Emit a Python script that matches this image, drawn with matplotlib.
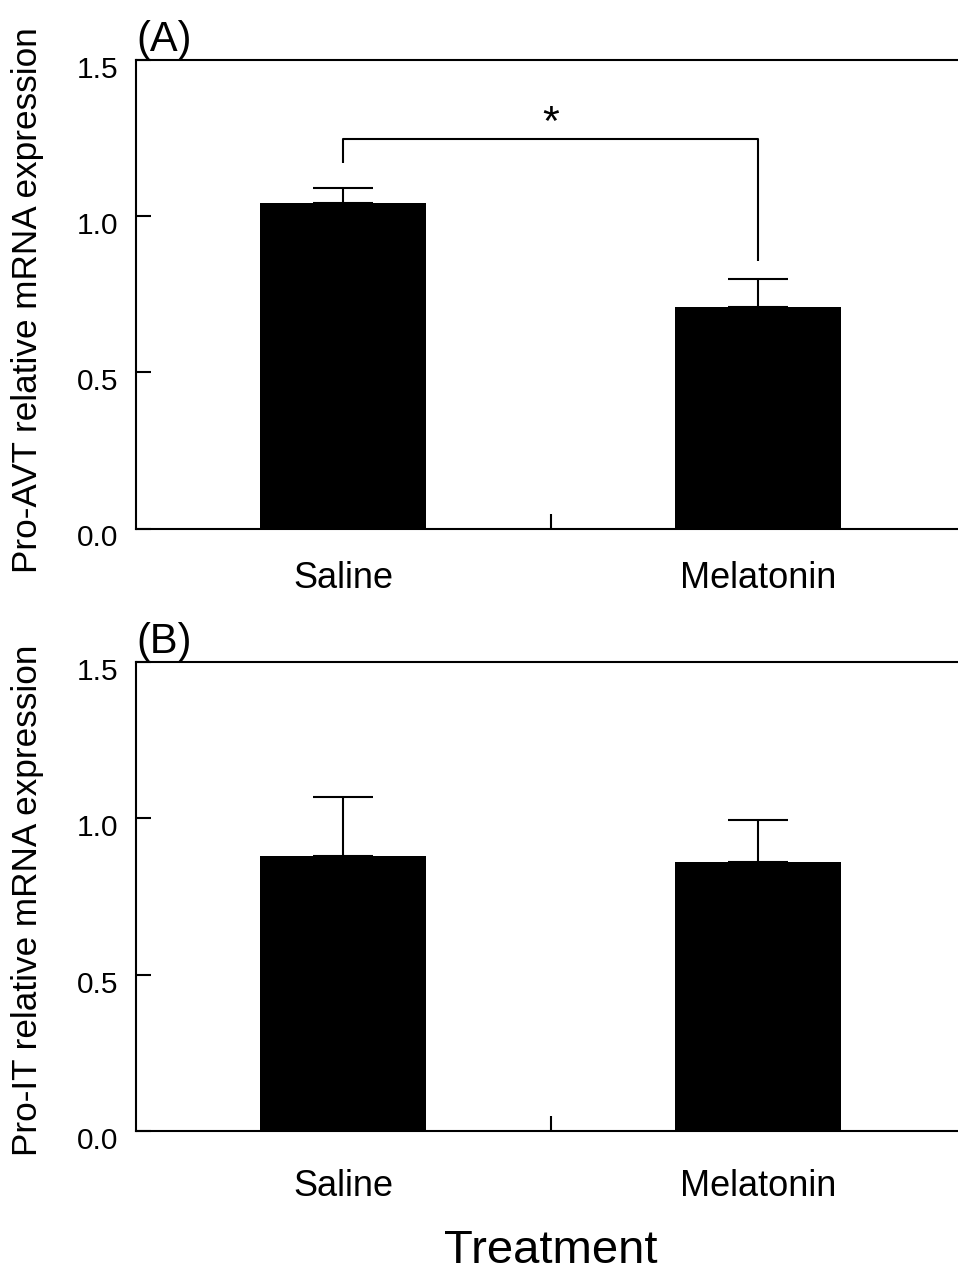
import matplotlib
matplotlib.use('Agg')
import matplotlib.pyplot as plt
from matplotlib.transforms import ScaledTranslation
import numpy as np

plt.rcParams['font.family'] = ['Liberation Sans', 'DejaVu Sans']

# ---- data ----
categories = ['Saline', 'Melatonin']
avt_means = [1.043, 0.710]
avt_sem = [0.048, 0.088]
it_means = [0.879, 0.860]
it_sem = [0.189, 0.135]
yticks = [0.0, 0.5, 1.0, 1.5]
ytick_labels = ['0.0', '0.5', '1.0', '1.5']
panel_labels = ['(A)', '(B)']
ylabels = ['Pro-AVT relative mRNA expression', 'Pro-IT relative mRNA expression']
xlabel = 'Treatment'
sig_text = '*'

fig = plt.figure(figsize=(9.58, 12.71), dpi=100)
left = 136 / 958
width = (965 - 136) / 958
ax1 = fig.add_axes([left, 1 - 528.5 / 1271, width, 468.5 / 1271])
ax2 = fig.add_axes([left, 1 - 1131 / 1271, width, 469 / 1271])

x = np.arange(len(categories))
lw = 1.5


def style(ax, means, sem, ylabel, panel, xpad, ylab_y):
    ax.bar(x, means, width=0.40, color='black', edgecolor='black', linewidth=0,
           yerr=[np.zeros(len(sem)), sem],
           error_kw=dict(ecolor='black', elinewidth=lw, capsize=21.6, capthick=lw),
           zorder=2)
    ax.set_xlim(-0.5, 1.5)
    ax.set_ylim(0, 1.5)
    for s in ['left', 'top', 'bottom']:
        ax.spines[s].set_linewidth(lw)
    ax.spines['right'].set_visible(False)
    ax.set_yticks(yticks)
    ax.set_yticklabels(ytick_labels)
    ax.tick_params(axis='y', direction='in', length=10.5, width=lw, labelsize=21.5, pad=13.0)
    ax.set_xticks(x)
    ax.set_xticklabels(categories)
    ax.tick_params(axis='x', which='major', length=0, labelsize=26, pad=xpad)
    ax.set_xticks([0.5], minor=True)
    ax.tick_params(axis='x', which='minor', direction='in', length=10.5, width=lw)
    off = ScaledTranslation(0, -7 / 100, fig.dpi_scale_trans)
    for lbl in ax.get_yticklabels():
        lbl.set_transform(lbl.get_transform() + off)
    ax.set_ylabel(ylabel, fontsize=25.3, va='center')
    ax.yaxis.set_label_coords(-0.131, ylab_y)
    ax.text(0.0, 1.0 + 9 / 468.5, panel, transform=ax.transAxes,
            ha='left', va='baseline', fontsize=30)


style(ax1, avt_means, avt_sem, ylabels[0], panel_labels[0], 23.5, 0.488)
style(ax2, it_means, it_sem, ylabels[1], panel_labels[1], 27.0, 0.492)

# significance bracket on panel A
bracket_top = 1.247
leg_gap = [0.078, 0.059]
leg_bottom = [m + e + g for m, e, g in zip(avt_means, avt_sem, leg_gap)]
ax1.plot([x[0], x[0], x[1], x[1]], [leg_bottom[0], bracket_top, bracket_top, leg_bottom[1]],
         color='black', lw=lw, solid_capstyle='butt', clip_on=False)
ax1.text((x[0] + x[1]) / 2, bracket_top + 0.013, sig_text, ha='center', va='baseline',
         fontsize=31)

ax2.set_xlabel(xlabel, fontsize=34, va='baseline')
ax2.xaxis.set_label_coords(0.5, -0.281)

fig.savefig('out.png', dpi=100)
